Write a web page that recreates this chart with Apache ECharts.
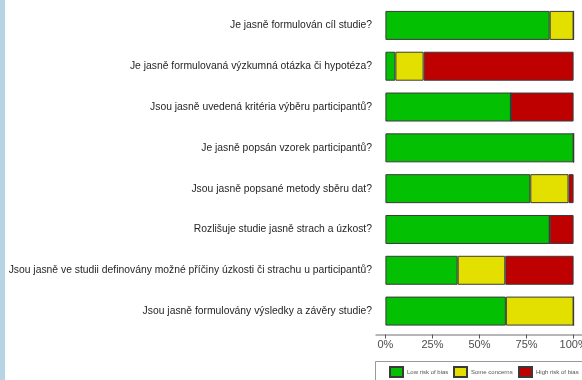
<!DOCTYPE html>
<html>
<head>
<meta charset="utf-8">
<script src="https://cdn.jsdelivr.net/npm/echarts@6/dist/echarts.min.js"></script>
<style>
  html, body { margin: 0; padding: 0; background: #ffffff; }
  #chart { width: 582px; height: 380px; }
</style>
</head>
<body>
<div id="chart"></div>
<script>
// Assessment questions, top to bottom
const questions = [
  'Je jasně formulován cíl studie?',
  'Je jasně formulovaná výzkumná otázka či hypotéza?',
  'Jsou jasně uvedená kritéria výběru participantů?',
  'Je jasně popsán vzorek participantů?',
  'Jsou jasně popsané metody sběru dat?',
  'Rozlišuje studie jasně strach a úzkost?',
  'Jsou jasně ve studii definovány možné příčiny úzkosti či strachu u participantů?',
  'Jsou jasně formulovány výsledky a závěry studie?'
];

// Share of studies (%) per judgement
const lowRisk      = [87.3,  5.3, 66.7, 100, 77.0, 87.3, 38.4, 64.0];
const someConcerns = [12.7, 15.0,  0.0,   0, 20.3,  0.0, 25.3, 36.0];
const highRisk     = [ 0.0, 79.7, 33.3,   0,  2.7, 12.7, 36.3,  0.0];

const seriesNames = ['Low risk of bias', 'Some concerns', 'High risk of bias'];
const seriesColors = ['#03c003', '#e3e000', '#be0000'];
const tickValues = [0, 25, 50, 75, 100];

const chart = echarts.init(document.getElementById('chart'), null, { renderer: 'canvas' });

const values = [lowRisk, someConcerns, highRisk];

// one legend entry per judgement, laid out in a single row
const legendLefts = [389, 453, 518];
const legends = seriesNames.map((name, i) => ({
  left: legendLefts[i], top: 366,
  orient: 'horizontal',
  itemWidth: 13, itemHeight: 10,
  padding: 0,
  textStyle: { fontSize: 6, color: '#555', padding: [0, 0, 0, -1] },
  icon: 'rect',
  data: [name]
}));

chart.setOption({
  animation: false,
  backgroundColor: '#ffffff',
  textStyle: { fontFamily: 'Liberation Sans, Arial, sans-serif' },
  graphic: [{
    type: 'rect',
    left: 0, top: 0,
    shape: { width: 5, height: 380 },
    style: { fill: '#b5d4e4' },
    silent: true
  }, {
    type: 'rect',
    shape: { x: 375.5, y: 361.5, width: 220, height: 30 },
    style: { fill: 'none', stroke: '#9a9a9a', lineWidth: 1 },
    silent: true
  }],
  grid: {
    left: 376, top: 5, width: 207, height: 326.5,
    containLabel: false,
    outerBoundsMode: 'none'
  },
  legend: legends,
  xAxis: {
    type: 'value',
    min: -5, max: 105,
    offset: 3,
    splitLine: { show: false },
    axisLine: { show: true, lineStyle: { color: '#a0a0a0', width: 1.5 } },
    axisTick: { show: true, length: 4, customValues: tickValues, lineStyle: { color: '#555' } },
    axisLabel: {
      customValues: tickValues,
      formatter: v => v + '%',
      color: '#4d4d4d', fontSize: 11, margin: 5
    }
  },
  yAxis: {
    type: 'category',
    inverse: true,
    data: questions,
    axisLine: { show: false },
    axisTick: { show: false },
    axisLabel: { color: '#1f1f1f', fontSize: 10.35, margin: 4 }
  },
  series: seriesNames.map((name, i) => ({
    name,
    type: 'bar',
    stack: 'total',
    barWidth: '71%',
    data: values[i],
    itemStyle: { color: seriesColors[i], borderColor: '#3a3a3a', borderWidth: 1 }
  }))
});
</script>
</body>
</html>
